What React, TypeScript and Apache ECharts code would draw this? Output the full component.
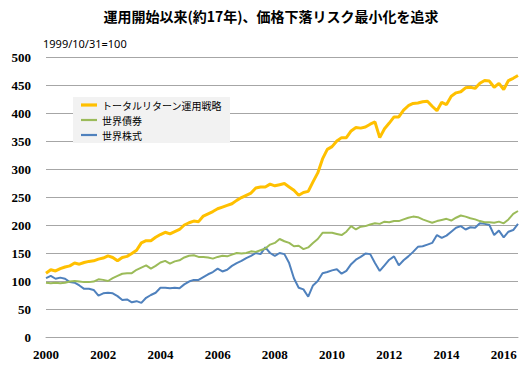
import React, { useEffect, useRef } from "react";
import * as echarts from "echarts";

const TITLE = "運用開始以来(約17年)、価格下落リスク最小化を追求";
const NOTE = "1999/10/31=100";
const SERIES_NAMES = ["トータルリターン運用戦略", "世界債券", "世界株式"];
const COLORS = ["#FFC000", "#9BBB59", "#4F81BD"];

// bi-monthly observations, Jan 2000 .. Jul 2016
const START_YEAR = 2000;
const N_POINTS = 100;

const totalReturn = [
  114, 120, 118, 122, 125, 127,
  132, 130, 133, 135, 136, 139,
  141, 145, 142, 136, 142, 144,
  149, 155, 168, 172, 172, 178,
  183, 187, 184, 188, 192, 200,
  204, 207, 206, 216, 220, 224,
  229, 232, 235, 238, 244, 249,
  253, 257, 266, 268, 268, 273,
  270, 272, 274, 268, 262, 253,
  258, 260, 277, 293, 318, 335,
  340, 350, 356, 356, 368, 374,
  373, 375, 380, 384, 356, 372,
  382, 393, 393, 405, 413, 417,
  418, 420, 421, 412, 404, 419,
  415, 430, 436, 438, 445, 446,
  444, 453, 458, 457, 446, 453,
  442, 458, 462, 467,
];

const worldBonds = [
  97, 96, 97, 96, 97, 99,
  100, 99, 98, 98, 99, 103,
  102, 100, 105, 109, 113, 114,
  114, 120, 124, 128, 122, 127,
  133, 136, 131, 135, 137, 142,
  145, 146, 143, 143, 142, 140,
  143, 145, 144, 147, 150, 149,
  150, 153, 152, 155, 158, 165,
  168, 175, 171, 168, 162, 163,
  157, 160, 168, 175, 186, 186,
  186, 184, 182, 188, 198, 192,
  197, 198, 201, 203, 202, 206,
  205, 207, 207, 210, 213, 215,
  214, 210, 207, 204, 207, 209,
  211, 208, 213, 217, 215, 212,
  210, 207, 205, 205, 204, 206,
  203, 210, 220, 225,
];

const worldEquity = [
  105, 109, 104, 106, 104, 98,
  97, 92, 86, 86, 84, 74,
  78, 79, 78, 73, 66, 67,
  62, 64, 61, 70, 75, 79,
  88, 88, 87, 88, 87, 94,
  99, 102, 102, 107, 112, 116,
  122, 117, 120, 127, 132, 136,
  141, 145, 150, 148, 160, 150,
  145, 150, 148, 132, 105, 88,
  85, 72, 92, 100, 114, 116,
  119, 121, 113, 118, 130, 138,
  143, 149, 148, 132, 118, 128,
  138, 144, 128, 137, 144, 152,
  161, 162, 165, 168, 182, 177,
  181, 188, 195, 198, 192, 196,
  195, 203, 202, 200, 182, 190,
  178, 188, 191, 202,
];

const dates: string[] = [];
for (let i = 0; i < N_POINTS; i++) {
  const y = START_YEAR + Math.floor(i / 6);
  const m = (i % 6) * 2 + 1;
  dates.push(`${y}/${m < 10 ? "0" + m : m}`);
}

export default function App() {
  const ref = useRef<HTMLDivElement>(null);
  useEffect(() => {
    if (!ref.current) return;
    const chart = echarts.init(ref.current, null, { renderer: "svg" });
    const values = [totalReturn, worldBonds, worldEquity];
    const widths = [3, 2, 2];
    const icons = ["path://M0,0h16v3.2h-16z", "path://M0,0h16v2.2h-16z", "path://M0,0h16v2.2h-16z"];
    chart.setOption({
      animation: false,
      backgroundColor: "#ffffff",
      title: {
        text: TITLE,
        left: 266,
        textAlign: "center",
        top: 4,
        textStyle: {
          fontFamily: "Noto Sans CJK JP",
          fontWeight: "bold",
          fontSize: 14,
          color: "#000",
        },
      },
      graphic: [
        {
          type: "text",
          left: 43,
          top: 38,
          style: {
            text: NOTE,
            fontFamily: "Noto Sans",
            fontSize: 11,
            fill: "#000",
          },
        },
      ],
      legend: {
        orient: "vertical",
        left: 73,
        top: 97,
        padding: [3, 8, 3, 8],
        itemGap: 5,
        itemWidth: 16,
        itemHeight: 14,
        symbolKeepAspect: true,
        backgroundColor: "#f2f2f2",
        textStyle: {
          fontFamily: "Noto Sans CJK JP",
          fontSize: 10,
          color: "#000",
        },
        data: SERIES_NAMES.map((name, k) => ({ name, icon: icons[k], itemStyle: { color: COLORS[k] } })),
      },
      grid: { left: 46, right: 8, top: 57, bottom: 31 },
      xAxis: {
        type: "category",
        data: dates,
        boundaryGap: false,
        axisLine: { show: true, lineStyle: { color: "#a6a6a6", width: 1 } },
        axisTick: { show: false },
        splitLine: { show: false },
        axisLabel: {
          interval: 11,
          margin: 11,
          formatter: (v: string) => v.slice(0, 4),
          fontFamily: "Liberation Serif",
          fontWeight: "bold",
          fontSize: 13,
          color: "#000",
        },
      },
      yAxis: {
        type: "value",
        min: 0,
        max: 500,
        interval: 50,
        axisLine: { show: false },
        axisTick: { show: false },
        splitLine: { lineStyle: { color: "#a6a6a6", width: 1 } },
        axisLabel: {
          margin: 15,
          fontFamily: "Liberation Serif",
          fontWeight: "bold",
          fontSize: 13,
          color: "#000",
        },
      },
      series: SERIES_NAMES.map((name, k) => ({
        name,
        type: "line",
        data: values[k],
        showSymbol: false,
        symbol: "none",
        color: COLORS[k],
        lineStyle: { color: COLORS[k], width: widths[k] },
        z: 3 - k,
      })),
    });
    return () => chart.dispose();
  }, []);
  return <div ref={ref} style={{ width: 526, height: 368, position: "absolute", left: 0, top: 0 }} />;
}
